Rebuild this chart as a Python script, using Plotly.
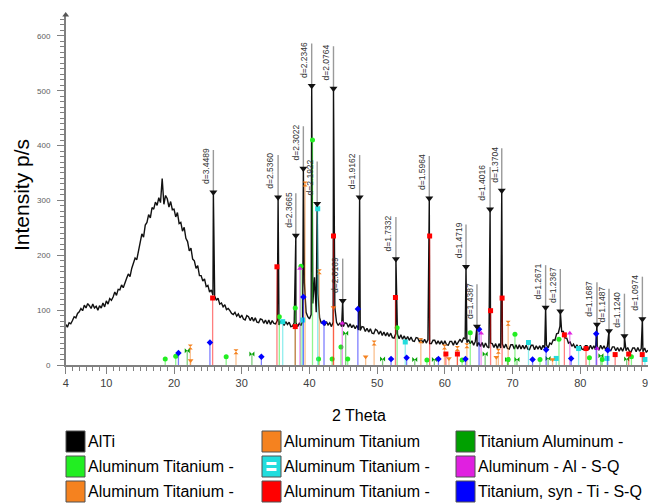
import plotly.graph_objects as go

# ---------------- DATA ----------------
# measured pattern, 0.25 deg steps from 4.00 to 90.00 (counts read off the picture)
bg_start = 4.0
bg_step = 0.25
bg_counts = [
    74, 69, 77, 75,     81, 88, 86, 94,     97, 103, 99, 109,   104, 112, 108, 103,
    111, 104, 107, 100, 108, 104, 113, 106, 117, 111, 121, 118, 124, 133, 127, 138,
    137, 146, 141, 152, 158, 166, 161, 176, 186, 195, 192, 209, 222, 239, 233, 255,
    260, 274, 268, 287, 284, 297, 291, 305, 296, 340, 293, 309, 303, 288, 298, 283,
    284, 270, 278, 258, 260, 244, 251, 231, 225, 208, 213, 193, 190, 176, 181, 163,
    163, 153, 157, 143, 145, 133, 137, 127, 126, 118, 122, 111, 113, 106, 110, 101,
    103, 99, 94, 92,    96, 89, 93, 86,     91, 84, 82, 90,     88, 81, 87, 80,
    86, 78, 77, 84,     83, 76, 82, 75,     82, 74, 81, 76,     75, 81, 73, 80,
    80, 72, 79, 74,     78, 70, 71, 77,     77, 70, 76, 72,     80, 150, 96, 88,
    84, 92, 112, 160,   96, 130, 86, 76,    80, 72, 79, 73,     77, 70, 78, 105,
    78, 72, 77, 70,     70, 77, 76, 69,     75, 68, 73, 66,     72, 64, 63, 70,
    69, 61, 67, 60,     66, 58, 57, 65,     63, 56, 62, 54,     60, 53, 59, 52,
    58, 50, 49, 57,     56, 48, 55, 47,     53, 46, 52, 45,     51, 44, 43, 50,
    49, 42, 48, 40,     47, 40, 46, 39,     39, 45, 45, 38,     44, 38, 44, 37,
    44, 37, 36, 43,     43, 36, 44, 37,     43, 47, 41, 49,     48, 41, 46, 39,
    44, 36, 43, 34,     41, 34, 41, 32,     40, 33, 31, 40,     39, 32, 39, 30,
    39, 31, 38, 31,     38, 30, 29, 37,     37, 29, 37, 29,     37, 29, 36, 29,
    36, 29, 28, 36,     36, 28, 35, 29,     35, 28, 36, 30,     37, 31, 40, 38,
    46, 45, 57, 58,     71, 61, 61, 49,     49, 40, 42, 34,     38, 31, 37, 30,
    36, 29, 28, 35,     35, 28, 36, 29,     35, 28, 34, 27,     36, 29, 35, 28,
    34, 27, 26, 33,     33, 26, 32, 25,     32, 25, 33, 26,     32, 25, 24, 31,
    31, 24, 32, 25,     30, 24, 31, 23,     27,
]

# identified peaks (position, apex counts, label)
peak_theta = [25.81, 35.37, 37.99, 39.10, 40.33, 41.14, 43.55, 44.91, 47.41, 52.77, 57.70,
              63.12, 64.74, 66.68, 68.40, 74.88, 77.05, 82.46, 84.24, 86.52, 89.17]
peak_counts = [315, 306, 236, 358, 509, 294, 504, 117, 306, 193, 304,
               179, 70, 284, 318, 105, 98, 74, 62, 53, 84]
peak_labels = ["d=3.4489", "d=2.5360", "d=2.3665", "d=2.3022", "d=2.2346", "d=2.1922",
               "d=2.0764", "d=2.0169", "d=1.9162", "d=1.7332", "d=1.5964", "d=1.4719",
               "d=1.4387", "d=1.4016", "d=1.3704", "d=1.2671", "d=1.2367", "d=1.1687",
               "d=1.1487", "d=1.1240", "d=1.0974"]
label_span = 77  # height of label stem above each peak (counts)

# reference patterns (stick positions / intensities)
ref_al_ti_a_theta = [22.40, 29.15, 39.35, 41.45, 49.55, 56.45, 59.95, 61.85, 63.25, 67.90, 69.35]
ref_al_ti_a_counts = [33, 24, 330, 170, 40, 44, 33, 30, 35, 25, 76]
ref_ti_al_theta = [21.95, 31.50, 45.35, 50.80, 55.55, 58.45, 65.95, 69.25, 70.65, 75.25, 83.05, 86.85]
ref_ti_al_counts = [26, 20, 58, 11, 10, 10, 20, 10, 10, 12, 17, 11]
ref_al_ti_b_theta = [18.70, 20.25, 27.70, 35.55, 37.90, 38.75, 40.45, 41.35, 43.35, 44.65, 45.65,
                     52.95, 57.35, 62.55, 63.75, 69.35, 70.35, 74.05, 76.85, 81.35, 83.25, 87.55]
ref_al_ti_b_counts = [11, 16, 15, 88, 104, 180, 410, 11, 11, 33, 11,
                      68, 9, 9, 59, 10, 56, 10, 47, 13, 10, 15]
ref_al_ti_c_theta = [36.05, 39.00, 41.22, 54.15, 72.35, 76.45, 79.75, 83.95, 89.55]
ref_al_ti_c_counts = [79, 82, 285, 42, 41, 12, 30, 12, 10]
ref_al_theta = [38.60, 44.85, 65.35, 78.45, 82.45]
ref_al_counts = [176, 76, 58, 58, 30]
ref_al_ti_d_theta = [22.45, 43.55, 48.30, 60.60, 67.60, 75.90]
ref_al_ti_d_counts = [8, 105, 15, 12, 14, 10]
ref_al_ti_e_theta = [25.70, 35.20, 37.90, 43.55, 52.70, 57.75, 60.15, 61.85, 66.75, 68.45,
                     77.65, 80.85, 85.15, 87.15, 89.15]
ref_al_ti_e_counts = [122, 179, 70, 235, 123, 235, 20, 20, 99, 122, 55, 30, 19, 20, 19]
ref_ti_theta = [20.65, 25.30, 32.90, 39.10, 42.15, 47.15, 52.05, 54.35, 59.05, 63.05, 65.05,
                72.95, 74.95, 78.65, 82.35, 84.05]
ref_ti_counts = [22, 41, 15, 124, 77, 102, 11, 13, 11, 11, 65, 10, 28, 12, 57, 27]

sample_name = "AlTi"
phase_names = ["Aluminum Titanium", "Titanium Aluminum -", "Aluminum Titanium -",
               "Aluminum Titanium -", "Aluminum - Al - S-Q", "Aluminum Titanium -",
               "Aluminum Titanium -", "Titanium, syn - Ti - S-Q"]

x_tick_vals = [4, 10, 20, 30, 40, 50, 60, 70, 80, 90]
y_tick_vals = [0, 100, 200, 300, 400, 500, 600]
x_title = "2 Theta"
y_title = "Intensity p/s"

# ---------------- STYLE ----------------
W, H = 648, 504
PX_L, PX_R, PX_T, PX_B = 65.7, 648.0, 15.0, 365.0
FONT = "Arial, Liberation Sans, sans-serif"

phases = [
    # theta, counts, colour, symbol (stick), legend icon symbol, legend row, col
    (ref_al_ti_a_theta, ref_al_ti_a_counts, "#f5821f", "hourglass", "hourglass", 0, 1),
    (ref_ti_al_theta, ref_ti_al_counts, "#00a000", "bowtie", "bowtie", 0, 2),
    (ref_al_ti_b_theta, ref_al_ti_b_counts, "#22ee22", "circle", "circle", 1, 0),
    (ref_al_ti_c_theta, ref_al_ti_c_counts, "#22dddd", "square", "equal", 1, 1),
    (ref_al_theta, ref_al_counts, "#e020e0", "triangle-up", "triangle-up", 1, 2),
    (ref_al_ti_d_theta, ref_al_ti_d_counts, "#f5821f", "triangle-down", "triangle-down", 2, 0),
    (ref_al_ti_e_theta, ref_al_ti_e_counts, "#ff0000", "square", "square", 2, 1),
    (ref_ti_theta, ref_ti_counts, "#0000ff", "diamond", "diamond", 2, 2),
]


def rgba(hexc, a):
    hexc = hexc.lstrip("#")
    r, g, b = int(hexc[0:2], 16), int(hexc[2:4], 16), int(hexc[4:6], 16)
    return f"rgba({r},{g},{b},{a})"


fig = go.Figure()

# measured pattern
bg_theta = [bg_start + i * bg_step for i in range(len(bg_counts))]
pattern = sorted(zip(bg_theta + peak_theta, bg_counts + peak_counts))
fig.add_trace(go.Scatter(x=[p[0] for p in pattern], y=[p[1] for p in pattern],
                         mode="lines", line=dict(color="#111111", width=1.4),
                         hoverinfo="skip", showlegend=False))

# reference sticks
for th, ct, col, sym, _, _, _ in phases:
    lx, ly = [], []
    for t, c in zip(th, ct):
        lx += [t, t, None]
        ly += [0, c, None]
    fig.add_trace(go.Scatter(x=lx, y=ly, mode="lines",
                             line=dict(color=rgba(col, 0.5), width=1.3),
                             hoverinfo="skip", showlegend=False))
    fig.add_trace(go.Scatter(x=th, y=ct, mode="markers",
                             marker=dict(symbol=sym, size=5, color=col,
                                         line=dict(width=0)),
                             hoverinfo="skip", showlegend=False))

# peak label stems + triangles
sx, sy = [], []
for t, c in zip(peak_theta, peak_counts):
    sx += [t, t, None]
    sy += [c, c + label_span, None]
fig.add_trace(go.Scatter(x=sx, y=sy, mode="lines", line=dict(color="#9a9a9a", width=1.4),
                         hoverinfo="skip", showlegend=False))
fig.add_trace(go.Scatter(x=peak_theta, y=peak_counts, mode="markers",
                         marker=dict(symbol="triangle-down", size=7, color="#111111"),
                         hoverinfo="skip", showlegend=False))

annotations = []
for t, c, lab in zip(peak_theta, peak_counts, peak_labels):
    annotations.append(dict(x=t, y=c, xref="x", yref="y", text=lab, showarrow=False,
                            textangle=-90, xanchor="right", yanchor="bottom",
                            xshift=-0.5, yshift=6,
                            font=dict(family=FONT, size=8.5, color="#333333")))

# ----- overlay pixel axes for legend / titles -----
fig.add_trace(go.Scatter(x=[PX_L], y=[PX_T], mode="markers", xaxis="x2", yaxis="y2",
                         marker=dict(symbol="triangle-up", size=6, color="#555555"),
                         hoverinfo="skip", showlegend=False))

col_x = [66, 262, 456]
row_y = [441.5, 466.5, 491.5]
icon_w, icon_h = 19, 21
shapes = []
legend_items = [(sample_name, "#000000", None, 0, 0)] + \
    [(phase_names[i], p[2], p[4], p[5], p[6]) for i, p in enumerate(phases)]
for name, col, sym, r, cidx in legend_items:
    x0 = col_x[cidx]
    yc = row_y[r]
    shapes.append(dict(type="rect", xref="x2", yref="y2", x0=x0, x1=x0 + icon_w,
                       y0=yc - icon_h / 2, y1=yc + icon_h / 2, fillcolor=col,
                       line=dict(color="#505050", width=1), layer="above"))
    xc = x0 + icon_w / 2
    if sym is None:
        sq_x = [x0 + d for d in [2, 4, 6, 7.5, 9, 10.5, 12, 13.5, 15, 17]]
        sq_y = [yc + d for d in [6, 3, 4, -3, 6, -5, 5, 2, 7, 6]]
        fig.add_trace(go.Scatter(x=sq_x, y=sq_y, mode="lines", xaxis="x2", yaxis="y2",
                                 line=dict(color="white", width=1.2),
                                 hoverinfo="skip", showlegend=False))
    elif sym == "equal":
        for dy in (-3, 3):
            shapes.append(dict(type="rect", xref="x2", yref="y2", x0=xc - 5, x1=xc + 5,
                               y0=yc + dy - 1.5, y1=yc + dy + 1.5, fillcolor="white",
                               line=dict(width=0), layer="above"))
    else:
        fig.add_trace(go.Scatter(x=[xc], y=[yc], mode="markers", xaxis="x2", yaxis="y2",
                                 marker=dict(symbol=sym, size=10, color="white",
                                             line=dict(width=0)),
                                 hoverinfo="skip", showlegend=False))
    annotations.append(dict(x=x0 + icon_w + 1, y=yc, xref="x2", yref="y2", text=name,
                            showarrow=False, xanchor="left", yanchor="middle",
                            font=dict(family=FONT, size=16, color="#000000")))

annotations.append(dict(x=359, y=415, xref="x2", yref="y2", text=x_title, showarrow=False,
                        xanchor="center", yanchor="middle",
                        font=dict(family=FONT, size=16, color="#000000")))
annotations.append(dict(x=21, y=195, xref="x2", yref="y2", text=y_title, showarrow=False,
                        textangle=-90, xanchor="center", yanchor="middle",
                        font=dict(family=FONT, size=21, color="#000000")))

fig.update_layout(
    width=W, height=H,
    margin=dict(l=0, r=0, t=0, b=0, pad=0, autoexpand=False),
    paper_bgcolor="white", plot_bgcolor="rgba(0,0,0,0)",
    showlegend=False,
    xaxis=dict(domain=[PX_L / W, PX_R / W], range=[4, 90], anchor="y", automargin=False,
               showline=True, linecolor="#808080", linewidth=1.5,
               showgrid=False, zeroline=False,
               tickmode="array", tickvals=x_tick_vals, ticklabeloverflow="allow",
               ticks="outside", ticklen=7, tickcolor="#808080", tickwidth=1,
               tickfont=dict(family=FONT, size=11, color="#404040"),
               minor=dict(dtick=1, tick0=0, ticks="outside", ticklen=4,
                          tickcolor="#808080", showgrid=False)),
    yaxis=dict(domain=[(H - PX_B) / H, (H - PX_T) / H], range=[0, 638], anchor="x",
               automargin=False,
               showline=True, linecolor="#808080", linewidth=1.5,
               showgrid=False, zeroline=False,
               tickmode="array", tickvals=y_tick_vals,
               ticks="outside", ticklen=7, tickcolor="#808080", tickwidth=1,
               ticklabelstandoff=5,
               tickfont=dict(family=FONT, size=8, color="#606060"),
               minor=dict(dtick=10, tick0=0, ticks="outside", ticklen=4,
                          tickcolor="#808080", showgrid=False)),
    xaxis2=dict(domain=[0, 1], range=[0, W], anchor="y2", visible=False, fixedrange=True,
                automargin=False),
    yaxis2=dict(domain=[0, 1], range=[H, 0], anchor="x2", visible=False, fixedrange=True,
                automargin=False),
    shapes=shapes,
    annotations=annotations,
)

fig.write_html("out.html", config={"displayModeBar": False},
               post_script="document.body.style.margin='0px';"
                           "document.body.style.overflow='hidden';")
